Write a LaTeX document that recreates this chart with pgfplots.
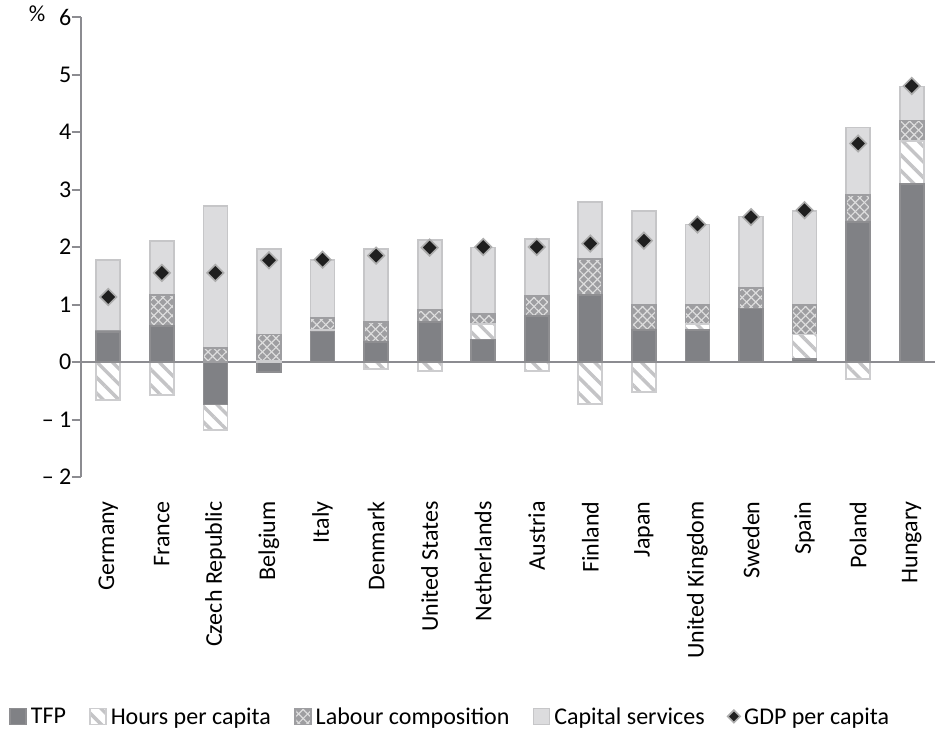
\documentclass[border=0pt]{standalone}
\usepackage{fontspec}
\setmainfont{Carlito}
\usepackage{pgfplots}
\usepackage{pgfplotstable}
\pgfplotsset{compat=1.18}
\usetikzlibrary{patterns,patterns.meta}

\definecolor{tfpc}{RGB}{128,129,133}
\definecolor{tfpb}{RGB}{142,142,145}
\definecolor{capc}{RGB}{220,220,222}
\definecolor{capb}{RGB}{198,198,200}
\definecolor{labc}{RGB}{158,158,161}
\definecolor{labp}{RGB}{222,222,222}
\definecolor{hrsb}{RGB}{205,205,207}
\definecolor{hrsp}{RGB}{196,196,198}
\definecolor{axc}{RGB}{140,140,145}

% x: category index; tfp/hrs = positive parts, tfpn/hrsn = negative parts
\pgfplotstableread{
x  tfp  tfpn  hrs  hrsn  lab  cap  gdp
0  0.52 0     0    -0.66 0.02 1.24 1.13
1  0.63 0     0    -0.57 0.53 0.95 1.55
2  0    -0.74 0    -0.44 0.24 2.48 1.55
3  0    -0.18 0.02 0     0.46 1.48 1.77
4  0.53 0     0.03 0     0.21 1.00 1.78
5  0.35 0     0    -0.12 0.35 1.26 1.85
6  0.69 0     0    -0.15 0.21 1.22 1.99
7  0.39 0     0.27 0     0.17 1.16 2.00
8  0.80 0     0    -0.15 0.35 0.99 2.00
9  1.16 0     0    -0.73 0.63 0.99 2.06
10 0.55 0     0    -0.52 0.44 1.63 2.11
11 0.56 0     0.10 0     0.33 1.40 2.39
12 0.93 0     0    0     0.36 1.24 2.52
13 0.05 0     0.43 0     0.51 1.64 2.64
14 2.44 0     0    -0.30 0.47 1.17 3.80
15 3.10 0     0.75 0     0.35 0.59 4.80
}\data

\pgfplotsset{
  base/.style={
    scale only axis, width=427.15pt, height=230pt,
    xmin=-0.515, xmax=15.435, ymin=-2, ymax=6,
    ybar stacked, bar width=12pt,
  },
  tfpst/.style={draw=tfpb, fill=tfpc, line width=0.9pt},
  hrsst/.style={draw=hrsb, fill=white, line width=0.9pt,
    postaction={pattern={Lines[angle=-45,distance=5.5pt,line width=1.7pt]}, pattern color=hrsp}},
  labst/.style={draw=labc, fill=labc, line width=0.9pt,
    postaction={pattern={Lines[angle=45,distance=3.2pt,line width=0.6pt]}, pattern color=labp},
    postaction={pattern={Lines[angle=-45,distance=3.2pt,line width=0.6pt]}, pattern color=labp}},
  capst/.style={draw=capb, fill=capc, line width=0.9pt},
  boxleg/.style={legend image code/.code={\draw[##1] (0pt,-3.2pt) rectangle (8pt,4.8pt);}},
  gdpleg/.style={legend image code/.code={\draw[##1, mark size=2.2pt] plot coordinates {(4pt,0.8pt)};}},
}

\begin{document}
\fontsize{12}{14.4}\selectfont
\begin{tikzpicture}
\useasboundingbox (-40.35pt,-127.5pt) rectangle (427.15pt,238.5pt);

% negative parts
\begin{axis}[base, hide axis]
\addplot[tfpst] table[x=x,y=tfpn]{\data};
\addplot[hrsst] table[x=x,y=hrsn]{\data};
\end{axis}

% positive parts, axes, legend
\begin{axis}[base,
  clip=false,
  axis lines*=left,
  axis line style={-},
  x axis line style={draw=none},
  y axis line style={axc, line width=1pt},
  xtick={0,...,15},
  xticklabels={Germany,France,Czech Republic,Belgium,Italy,Denmark,United States,Netherlands,Austria,Finland,Japan,United Kingdom,Sweden,Spain,Poland,Hungary},
  xticklabel style={rotate=90, anchor=east, inner sep=0pt},
  xticklabel shift=7.5pt,
  xtick style={draw=none},
  ytick={-2,-1,0,1,2,3,4,5,6},
  yticklabels={– 2,– 1,0,1,2,3,4,5,6},
  yticklabel style={inner sep=0pt},
  tick align=outside,
  major tick length=4.5pt,
  ytick style={axc, line width=1pt},
  extra y ticks={0},
  extra y tick labels={},
  extra y tick style={grid=major, major grid style={axc, line width=1pt}},
  legend style={at={(0.4335,-0.524)}, anchor=center, draw=none,
    legend columns=-1, nodes={inner sep=2pt},
    /tikz/every even column/.append style={column sep=9.5pt}},
  legend cell align=left,
  boxleg,
]
\addplot[tfpst] table[x=x,y=tfp]{\data};
\addlegendentry{TFP}
\addplot[hrsst] table[x=x,y=hrs]{\data};
\addlegendentry{Hours per capita}
\addplot[labst] table[x=x,y=lab]{\data};
\addlegendentry{Labour composition}
\addplot[capst] table[x=x,y=cap]{\data};
\addlegendentry{Capital services}
\addplot[only marks, stack plots=false, mark=square*, mark size=2.9pt,
  mark options={rotate=45, fill=black!88, draw=gray!65, line width=0.8pt},
  gdpleg]
  table[x=x,y=gdp]{\data};
\addlegendentry{GDP per capita}
\node[anchor=east, font=\fontsize{11.5}{12}\selectfont, inner sep=0pt] at (rel axis cs:0,1) [xshift=-17.5pt, yshift=1.5pt] {\%};
\end{axis}
\end{tikzpicture}
\end{document}
